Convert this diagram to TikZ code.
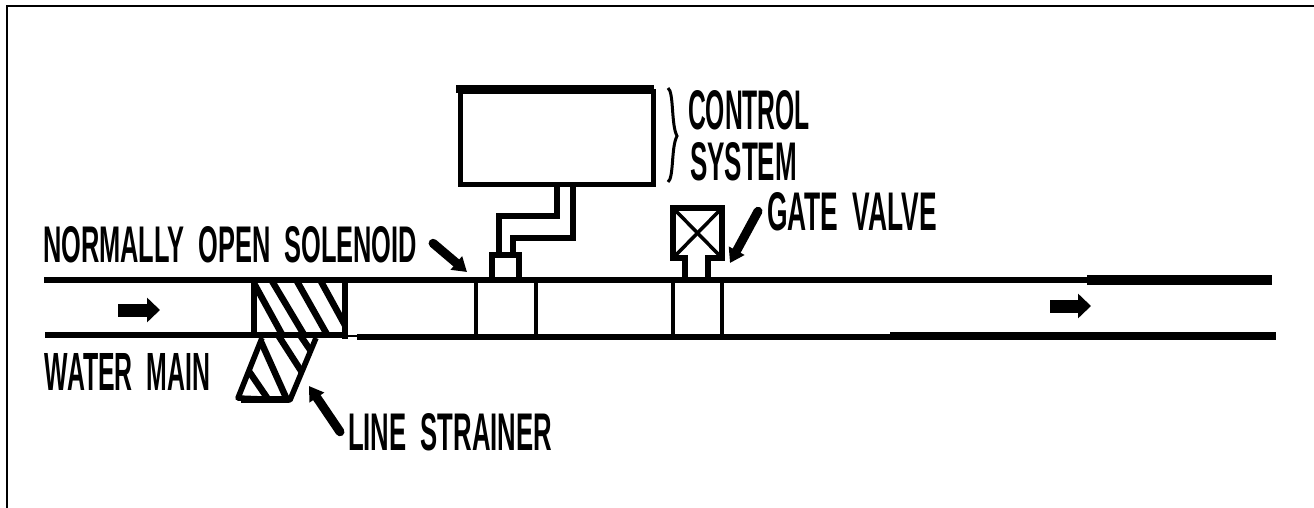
\documentclass[tikz,border=0pt]{standalone}
\usepackage{fontspec}
\usepackage{graphicx}
\setmainfont{Liberation Sans}
\usetikzlibrary{arrows.meta}
\newcommand{\wgap}{\hspace{0.55em}}
\tikzset{
  x=1pt,y=-1pt,
  ln/.style={line width=5.5pt,line cap=butt},
  thin line/.style={line width=3.5pt},
  hatch/.style={line width=6.5pt},
  lbl/.style={anchor=north west,inner sep=0pt,outer sep=0pt,font=\bfseries},
  leader/.style={line width=9pt,line cap=round,-{Triangle[length=14pt,width=17pt]}},
  flow/.style={line width=13pt,-{Triangle[length=13pt,width=24pt]}},
}
\begin{document}
\begin{tikzpicture}
\useasboundingbox (0,0) rectangle (1314,508);
% frame
\draw[line width=2.5pt] (7,508) -- (7,6) -- (1314,6);
% strainer hatching, clipped to the body outline
\begin{scope}
\clip (254,282) rectangle (345,335);
\draw[hatch] (250,276) -- (284,338);
\draw[hatch] (269,276) -- (306,338);
\draw[hatch] (294,276) -- (329,338);
\draw[hatch] (318,276) -- (352,338);
\end{scope}
\begin{scope}
\clip (262,337) -- (239,398) -- (290,400) -- (316,337) -- cycle;
\draw[hatch] (244,364) -- (270,402);
\draw[hatch] (258,335) -- (288,402);
\draw[hatch] (278,335) -- (305,377);
\draw[hatch] (300,335) -- (317,360);
\end{scope}
% pipe
\draw[ln] (44,280) -- (1087,280);
\draw[line width=10pt] (1087,280) -- (1272,280);
\draw[ln] (45,335) -- (345,335);
\draw[line width=2pt] (345,336) -- (357,336);
\draw[line width=6pt] (357,337) -- (890,337);
\draw[line width=8.5pt] (890,336) -- (1276,336);
% strainer outline
\draw[ln] (254,280) -- (254,335);
\draw[ln] (345,280) -- (345,339);
\draw[ln,line join=round] (262,338) -- (238,398) -- (290,400) -- (316,338);
\draw[line width=7pt] (241,399) -- (289,399);
% solenoid
\draw[thin line] (476,280) -- (476,337);
\draw[thin line] (536,280) -- (536,337);
\draw[ln] (492,280) -- (492,255) -- (519,255) -- (519,280);
% control box
\node[draw,line width=5pt,minimum width=193pt,minimum height=93pt,inner sep=0pt,anchor=north west] (ctrl) at (458,89) {};
\draw[line width=7.5pt] (456,89) -- (654,89);
\draw[ln,line join=miter] (499,255) -- (499,216) -- (557,216) -- (557,182);
\draw[ln,line join=miter] (513,255) -- (513,238) -- (573,238) -- (573,182);
\draw[line width=3pt] (668,88) .. controls (674,92) and (671,125) .. (677,136) .. controls (671,147) and (674,178) .. (668,182);
% gate valve
\draw[ln,line join=miter] (685,280) -- (685,258) -- (673,258) -- (673,208) -- (722,208) -- (722,258) -- (708,258) -- (708,280);
\draw[line width=3.5pt] (675,210) -- (720,256);
\draw[line width=3.5pt] (720,210) -- (675,256);
\draw[thin line] (673,280) -- (673,337);
\draw[thin line] (722,280) -- (722,337);
% flow
\draw[flow] (118,310) -- (160,310);
\draw[flow] (1050,306) -- (1091,306);
% labels
\node[lbl] (sol) at (43,226) {\resizebox{374pt}{36pt}{NORMALLY\wgap OPEN\wgap SOLENOID}};
\node[lbl] (main) at (45,353) {\resizebox{165pt}{37pt}{WATER\wgap MAIN}};
\node[lbl] (str) at (348,413) {\resizebox{204pt}{37pt}{LINE\wgap STRAINER}};
\node[lbl] (gate) at (767,192) {\resizebox{170pt}{38pt}{GATE\wgap VALVE}};
\node[lbl] (con) at (688,90) {\resizebox{122pt}{39pt}{CONTROL}};
\node[lbl] (sys) at (690,142) {\resizebox{107pt}{38pt}{SYSTEM}};
% leaders
\coordinate (solT) at (467,272);
\coordinate (gateT) at (730,263);
\coordinate (strT) at (309,386);
\draw[leader] (sol.east) ++(16,-1) -- (solT);
\draw[leader] (gate.west) ++(-9,0) -- (gateT);
\draw[leader] (str.west) ++(-8,0) -- (strT);
\end{tikzpicture}
\end{document}
